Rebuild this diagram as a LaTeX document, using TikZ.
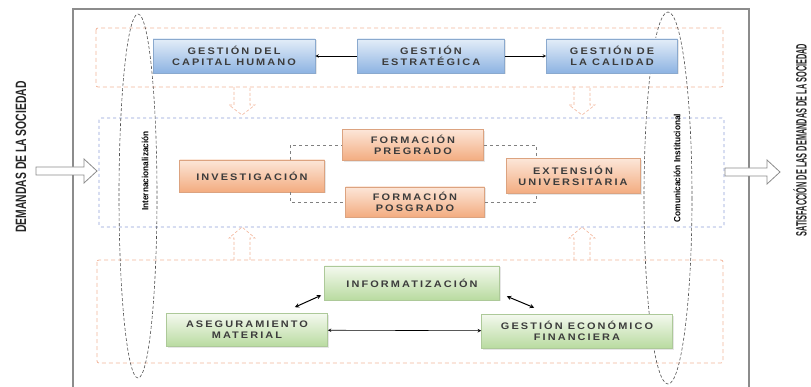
\documentclass[tikz,border=0pt]{standalone}
\usepackage{fontspec}
\setmainfont{Liberation Sans}
\newfontfamily\boxfont[LetterSpace=22,FakeStretch=1.15]{Liberation Sans}
\usetikzlibrary{shadows}
\definecolor{framegray}{HTML}{8C8C8C}
\definecolor{ellgray}{HTML}{505050}
\definecolor{txtgray}{HTML}{3C3C3C}
\definecolor{dashorange}{HTML}{F2B49A}
\definecolor{dashblue}{HTML}{8E9FD6}
\definecolor{bluetop}{HTML}{E3EDF8}
\definecolor{bluebot}{HTML}{8DB3E2}
\definecolor{orangetop}{HTML}{FCE6D8}
\definecolor{orangebot}{HTML}{F3AC80}
\definecolor{greentop}{HTML}{F4F9EF}
\definecolor{greenbot}{HTML}{B9DBA0}
\tikzset{
  gbox/.style={rectangle,inner sep=1pt,align=center,text=txtgray,
    font=\boxfont\bfseries\fontsize{9.5}{11}\selectfont,
    drop shadow={opacity=.2,shadow xshift=1.5pt,shadow yshift=-1.5pt}},
  bluebox/.style={gbox,draw=bluebot!80!gray,top color=bluetop,bottom color=bluebot},
  orangebox/.style={gbox,draw=orangebot!80!gray,top color=orangetop,bottom color=orangebot},
  greenbox/.style={gbox,draw=greenbot!80!gray,top color=greentop,bottom color=greenbot},
  levelbox/.style={dash pattern=on 4pt off 3pt,rounded corners=2pt,line width=.8pt},
  vlabel/.style={rotate=90,text=black,font=\bfseries\fontsize{9}{10}\selectfont},
  sidelabel/.style={rotate=90,text=black!85,font=\bfseries\fontsize{15}{17}\selectfont}
}
\begin{document}
\begin{tikzpicture}[x=1pt,y=-1pt]
\pgfsetlinewidth{.6pt}
\useasboundingbox (0,0) rectangle (811,387);
% outer frame
\draw[framegray,line width=1.2pt] (73,392) -- (73,9) -- (749,9) -- (749,392);
% levels
\draw[levelbox,dashorange] (96,28) rectangle (723,87);
\draw[levelbox,dashblue,dash pattern=on 3pt off 3pt] (99,118) rectangle (724,227);
\draw[levelbox,dashorange] (97,260) rectangle (723,363);
% transversal processes
\draw[ellgray,densely dashed] (138,196) ellipse [x radius=19,y radius=182];
\draw[ellgray,densely dashed] (668,198) ellipse [x radius=24,y radius=186];
\node[vlabel] (inter) at (145,171) {\scalebox{.92}[1]{Internacionalización}};
\node[vlabel] (comu) at (677,168) {\scalebox{.92}[1]{Comunicación Institucional}};
% strategic level
\node[bluebox,minimum width=162,minimum height=34] (capital) at (234,56) {GESTIÓN DEL\\CAPITAL HUMANO};
\node[bluebox,minimum width=147,minimum height=34] (estrat) at (431,56) {GESTIÓN\\ESTRATÉGICA};
\node[bluebox,minimum width=131,minimum height=34] (calidad) at (612,56) {GESTIÓN DE\\LA CALIDAD};
\draw[-stealth] (estrat) -- (capital);
\draw[-stealth] (estrat) -- (calidad);
% key processes
\node[orangebox,minimum width=145,minimum height=32] (invest) at (252,176) {INVESTIGACIÓN};
\node[orangebox,minimum width=141,minimum height=31] (pregrado) at (413,145) {FORMACIÓN\\PREGRADO};
\node[orangebox,minimum width=139,minimum height=30] (posgrado) at (415,202) {FORMACIÓN\\POSGRADO};
\node[orangebox,minimum width=134,minimum height=35] (extension) at (573,176) {EXTENSIÓN\\UNIVERSITARIA};
\draw[gray,dashed] ([xshift=38]invest.north) |- (pregrado.west);
\draw[gray,dashed] ([xshift=38]invest.south) |- (posgrado.west);
\draw[gray,dashed] (pregrado.east) -| ([xshift=-37]extension.north);
\draw[gray,dashed] (posgrado.east) -| ([xshift=-37]extension.south);
% support processes
\node[greenbox,minimum width=175,minimum height=34] (informat) at (412,283) {INFORMATIZACIÓN};
\node[greenbox,minimum width=161,minimum height=33] (asegur) at (247,330) {ASEGURAMIENTO\\MATERIAL};
\node[greenbox,minimum width=191,minimum height=34] (gestecon) at (577,331) {GESTIÓN ECONÓMICO\\FINANCIERA};
\draw[stealth-stealth] (asegur) -- (gestecon);
\draw[stealth-stealth,line width=1pt] ([shift={(-33,-6)}]asegur.north east) -- ([shift={(-3,-5)}]informat.south west);
\draw[stealth-stealth,line width=1pt] ([shift={(7,-4)}]informat.south east) -- ([shift={(53,-6)}]gestecon.north west);
% hollow arrows between levels
\foreach \x in {242,582}{
  \draw[dashorange,densely dashed] (\x-8,87) -- (\x-8,105) -- (\x-13,105) -- (\x,115) -- (\x+13,105) -- (\x+8,105) -- (\x+8,87);
  \draw[dashorange,densely dashed] (\x-8,260) -- (\x-8,238) -- (\x-13,238) -- (\x,227) -- (\x+13,238) -- (\x+8,238) -- (\x+8,260);
}
% input and output
\draw[framegray,fill=white,line width=.8pt] (36,167) -- (84,167) -- (84,159) -- (97,171) -- (84,183) -- (84,175) -- (36,175) -- cycle;
\draw[framegray,fill=white,line width=.8pt] (725,168) -- (767,168) -- (767,160) -- (780,172) -- (767,184) -- (767,176) -- (725,176) -- cycle;
\node[sidelabel] (demandas) at (21,157) {\scalebox{.69}[1]{DEMANDAS DE LA SOCIEDAD}};
\node[sidelabel] (satisf) at (800,140) {\scalebox{.49}[1]{SATISFACCIÓN DE LAS DEMANDAS DE LA SOCIEDAD}};
\end{tikzpicture}
\end{document}
